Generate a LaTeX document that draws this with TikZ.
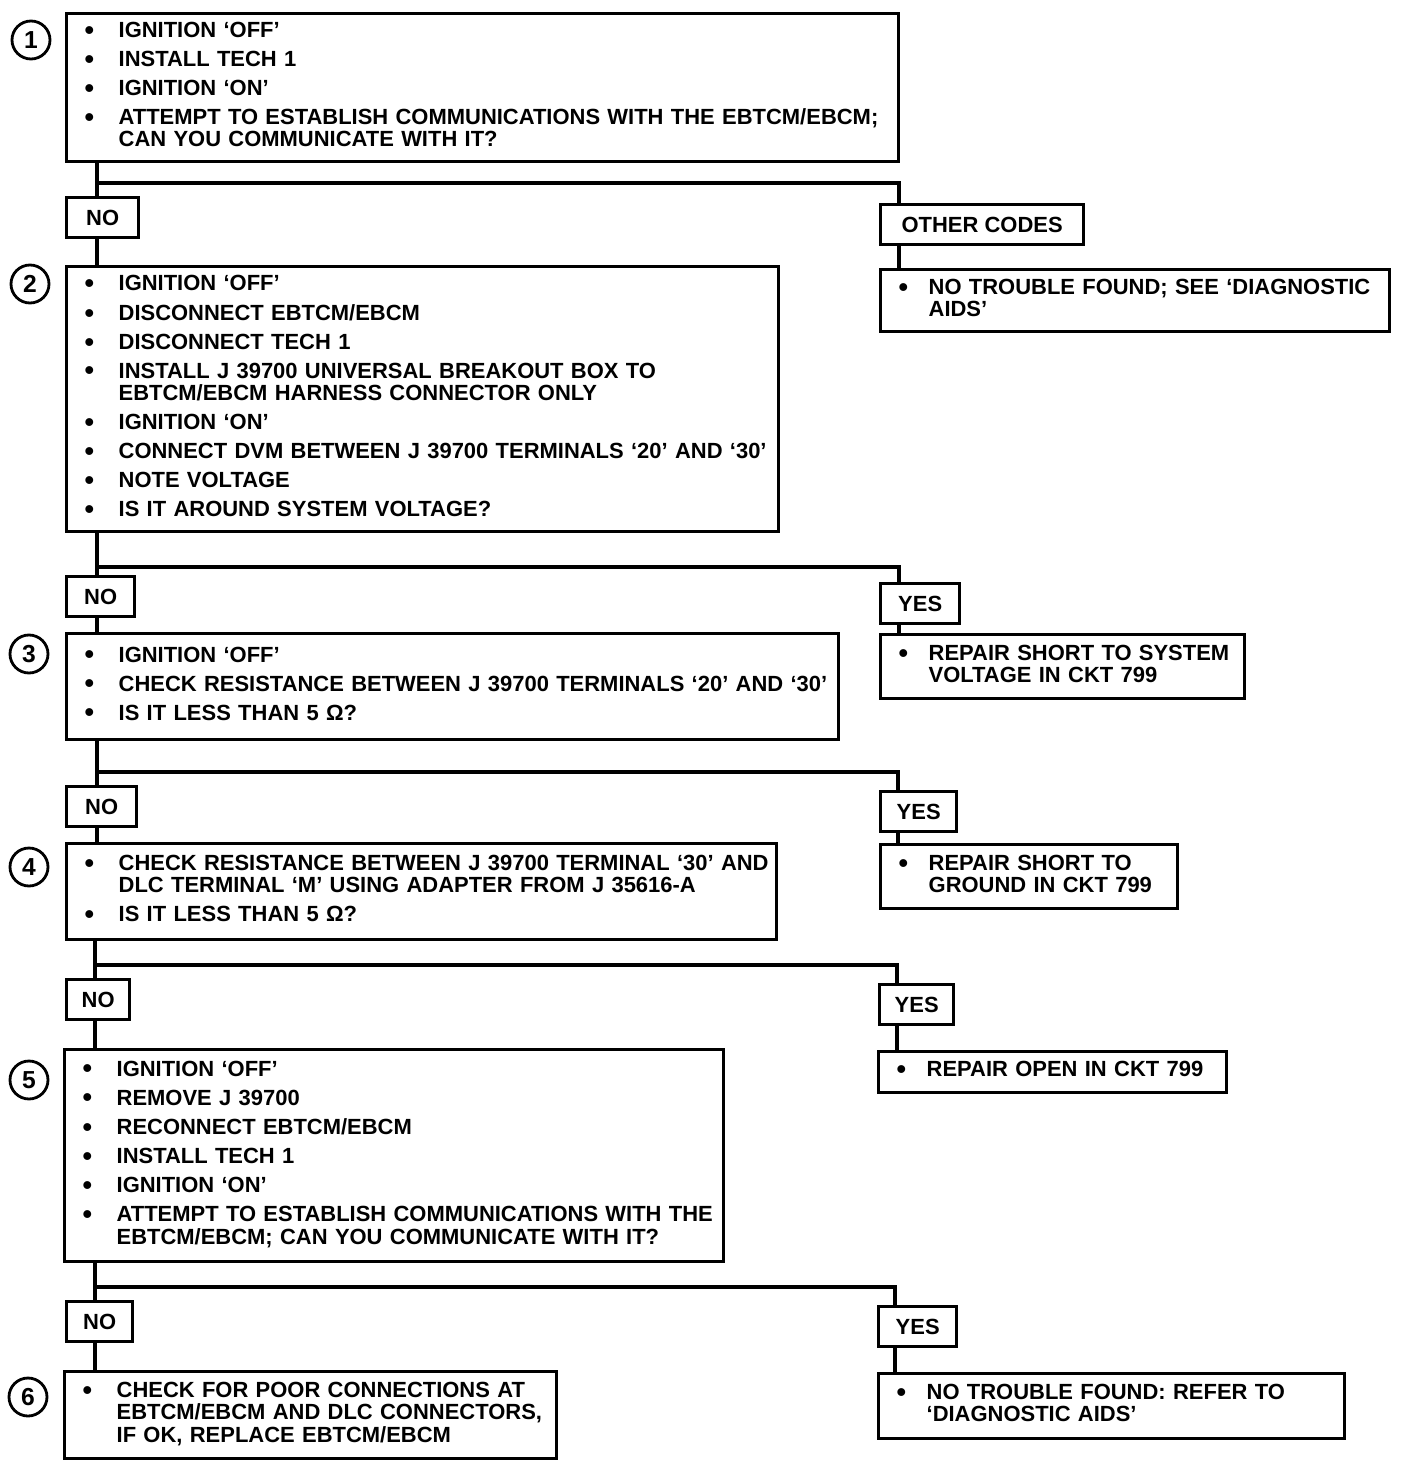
\documentclass[tikz,border=0pt]{standalone}
\usepackage{fontspec}
\setmainfont{Liberation Sans}
\usetikzlibrary{calc}

\tikzset{
  stepbox/.style={draw, line width=1.9pt, anchor=north west, align=left,
    inner xsep=0.36cm, inner ysep=0pt,
    font=\bfseries\fontsize{12.5}{12.5}\selectfont},
  answer/.style={draw, line width=1.9pt, anchor=north west, inner sep=0pt,
    minimum height=0.8cm, font=\bfseries\fontsize{12.5}{12.5}\selectfont},
  stepno/.style={draw, circle, line width=1.6pt, minimum size=0.76cm,
    inner sep=0pt, font=\bfseries\fontsize{14}{14}\selectfont},
  link/.style={line width=2pt}
}
\newcommand{\bul}{\raisebox{-1.1pt}{\fontsize{15.5}{12.5}\selectfont\textbullet}}
\newcommand{\gap}{\\[4pt]}

\begin{document}
\begin{tikzpicture}[x=0.02cm, y=-0.02cm]
  \useasboundingbox (0,0) rectangle (1408,1466);

  % step numbers
  \node[stepno] (c1) at (31,40) {1};
  \node[stepno] (c2) at (30,284) {2};
  \node[stepno] (c3) at (29,654) {3};
  \node[stepno] (c4) at (29,867) {4};
  \node[stepno] (c5) at (29,1080) {5};
  \node[stepno] (c6) at (28,1397) {6};

  % step boxes
  \node[stepbox, text width=15.92cm, minimum height=2.96cm] (s1) at (65,12) {%
    \begin{tabular}{@{}p{0.68cm}@{}l@{}}
    \bul & IGNITION `OFF'\gap
    \bul & INSTALL TECH 1\gap
    \bul & IGNITION `ON'\gap
    \bul & ATTEMPT TO ESTABLISH COMMUNICATIONS WITH THE EBTCM/EBCM;\\
         & CAN YOU COMMUNICATE WITH IT?
    \end{tabular}};
  \node[stepbox, text width=13.52cm, minimum height=5.3cm] (s2) at (65,265) {%
    \begin{tabular}{@{}p{0.68cm}@{}l@{}}
    \bul & IGNITION `OFF'\gap
    \bul & DISCONNECT EBTCM/EBCM\gap
    \bul & DISCONNECT TECH 1\gap
    \bul & INSTALL J 39700 UNIVERSAL BREAKOUT BOX TO\\
         & EBTCM/EBCM HARNESS CONNECTOR ONLY\gap
    \bul & IGNITION `ON'\gap
    \bul & CONNECT DVM BETWEEN J 39700 TERMINALS `20' AND `30'\gap
    \bul & NOTE VOLTAGE\gap
    \bul & IS IT AROUND SYSTEM VOLTAGE?
    \end{tabular}};
  \node[stepbox, text width=14.72cm, minimum height=2.12cm] (s3) at (65,632) {%
    \begin{tabular}{@{}p{0.68cm}@{}l@{}}
    \bul & IGNITION `OFF'\gap
    \bul & CHECK RESISTANCE BETWEEN J 39700 TERMINALS `20' AND `30'\gap
    \bul & IS IT LESS THAN 5 Ω?
    \end{tabular}};
  \node[stepbox, text width=13.48cm, minimum height=1.92cm] (s4) at (65,842) {%
    \begin{tabular}{@{}p{0.68cm}@{}l@{}}
    \bul & CHECK RESISTANCE BETWEEN J  39700 TERMINAL `30' AND\\
         & DLC TERMINAL `M' USING ADAPTER FROM J  35616-A\gap
    \bul & IS IT LESS THAN 5 Ω?
    \end{tabular}};
  \node[stepbox, text width=12.46cm, minimum height=4.24cm] (s5) at (63,1048) {%
    \begin{tabular}{@{}p{0.68cm}@{}l@{}}
    \bul & IGNITION `OFF'\gap
    \bul & REMOVE J  39700\gap
    \bul & RECONNECT EBTCM/EBCM\gap
    \bul & INSTALL TECH 1\gap
    \bul & IGNITION `ON'\gap
    \bul & ATTEMPT TO ESTABLISH COMMUNICATIONS WITH THE\\
         & EBTCM/EBCM; CAN YOU COMMUNICATE WITH IT?
    \end{tabular}};
  \node[stepbox, text width=9.12cm, minimum height=1.74cm] (s6) at (63,1370) {%
    \begin{tabular}{@{}p{0.68cm}@{}l@{}}
    \bul & CHECK FOR POOR CONNECTIONS AT\\
         & EBTCM/EBCM AND DLC CONNECTORS,\\
         & IF OK, REPLACE EBTCM/EBCM
    \end{tabular}};

  % result boxes
  \node[stepbox, text width=9.46cm, minimum height=1.24cm] (r1) at (879,268) {%
    \begin{tabular}{@{}p{0.6cm}@{}l@{}}
    \bul & NO TROUBLE FOUND; SEE `DIAGNOSTIC\\
         & AIDS'
    \end{tabular}};
  \node[stepbox, text width=6.56cm, minimum height=1.28cm] (r2) at (879,633) {%
    \begin{tabular}{@{}p{0.6cm}@{}l@{}}
    \bul & REPAIR SHORT TO SYSTEM\\
         & VOLTAGE IN CKT  799
    \end{tabular}};
  \node[stepbox, text width=5.22cm, minimum height=1.28cm] (r3) at (879,843) {%
    \begin{tabular}{@{}p{0.6cm}@{}l@{}}
    \bul & REPAIR SHORT TO\\
         & GROUND IN CKT  799
    \end{tabular}};
  \node[stepbox, text width=6.24cm, minimum height=0.82cm] (r4) at (877,1050) {%
    \begin{tabular}{@{}p{0.6cm}@{}l@{}}
    \bul & REPAIR OPEN IN CKT 799
    \end{tabular}};
  \node[stepbox, text width=8.6cm, minimum height=1.3cm] (r5) at (877,1372) {%
    \begin{tabular}{@{}p{0.6cm}@{}l@{}}
    \bul & NO TROUBLE FOUND: REFER TO\\
         & `DIAGNOSTIC AIDS'
    \end{tabular}};

  % answers
  \node[answer, minimum width=1.44cm] (no1) at (65,196) {NO};
  \node[answer, minimum width=4.06cm] (oc) at (879,203) {OTHER CODES};
  \node[answer, minimum width=1.36cm] (no2) at (65,575) {NO};
  \node[answer, minimum width=1.58cm] (yes2) at (879,582) {YES};
  \node[answer, minimum width=1.4cm] (no3) at (65,785) {NO};
  \node[answer, minimum width=1.52cm] (yes3) at (879,790) {YES};
  \node[answer, minimum width=1.26cm] (no4) at (65,978) {NO};
  \node[answer, minimum width=1.48cm] (yes4) at (878,983) {YES};
  \node[answer, minimum width=1.32cm] (no5) at (65,1300) {NO};
  \node[answer, minimum width=1.56cm] (yes5) at (877,1305) {YES};

  % branch points
  \coordinate (j1) at (97,183);   \coordinate (k1) at (899,183);
  \coordinate (j2) at (97,567);   \coordinate (k2) at (899,567);
  \coordinate (j3) at (97,772);   \coordinate (k3) at (898,772);
  \coordinate (j4) at (95,965);   \coordinate (k4) at (897,965);
  \coordinate (j5) at (95,1287);  \coordinate (k5) at (895,1287);

  % connectors
  \draw[link] (s1.south -| j1) -- (no1.north -| j1);
  \draw[link] (j1) -- (k1) -- (oc.north -| k1);
  \draw[link] (oc.south -| k1) -- (r1.north -| k1);
  \draw[link] (no1.south -| j1) -- (s2.north -| j1);

  \draw[link] (s2.south -| j2) -- (no2.north -| j2);
  \draw[link] (j2) -- (k2) -- (yes2.north -| k2);
  \draw[link] (yes2.south -| k2) -- (r2.north -| k2);
  \draw[link] (no2.south -| j2) -- (s3.north -| j2);

  \draw[link] (s3.south -| j3) -- (no3.north -| j3);
  \draw[link] (j3) -- (k3) -- (yes3.north -| k3);
  \draw[link] (yes3.south -| k3) -- (r3.north -| k3);
  \draw[link] (no3.south -| j3) -- (s4.north -| j3);

  \draw[link] (s4.south -| j4) -- (no4.north -| j4);
  \draw[link] (j4) -- (k4) -- (yes4.north -| k4);
  \draw[link] (yes4.south -| k4) -- (r4.north -| k4);
  \draw[link] (no4.south -| j4) -- (s5.north -| j4);

  \draw[link] (s5.south -| j5) -- (no5.north -| j5);
  \draw[link] (j5) -- (k5) -- (yes5.north -| k5);
  \draw[link] (yes5.south -| k5) -- (r5.north -| k5);
  \draw[link] (no5.south -| j5) -- (s6.north -| j5);
\end{tikzpicture}
\end{document}
